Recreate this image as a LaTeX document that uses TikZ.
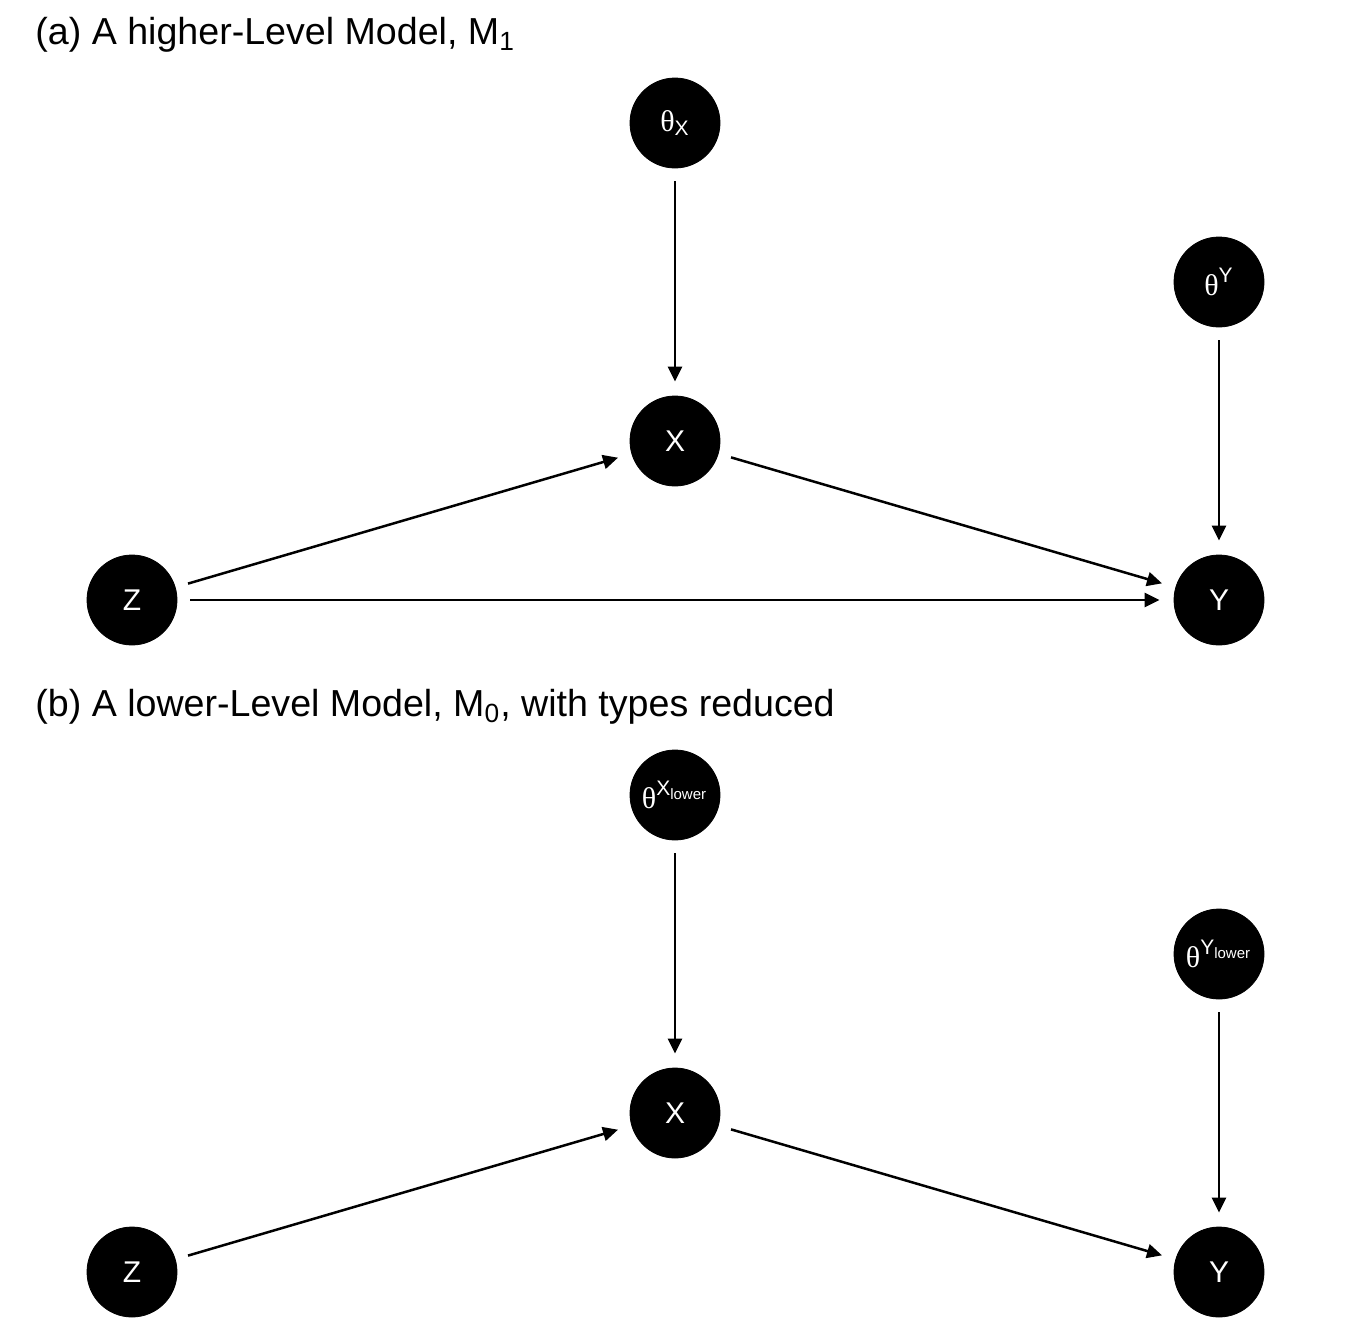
\documentclass[tikz,border=0pt]{standalone}
\usepackage{amsmath}
\usepackage{fontspec}
\setmainfont{Liberation Sans}
\newfontfamily\thetafont{Liberation Serif}
\usepackage{tikz}
\usetikzlibrary{arrows,arrows.meta,positioning}
\pgfdeclarelayer{edgelayer}
\pgfdeclarelayer{nodelayer}
\pgfsetlayers{edgelayer,nodelayer,main}
\newcommand{\thet}{\text{\thetafont θ}}
\tikzstyle{var}=[circle,fill=black,draw=black,text=white,minimum size=45pt,inner sep=0pt,font=\fontsize{15}{17}\selectfont]
\tikzstyle{inarrow}=[-{Triangle[length=7.5pt,width=7pt]}, line width=1.25pt, shorten >=7pt, shorten <=6.5pt]
\tikzstyle{panel}=[anchor=base west,inner sep=0pt,font=\fontsize{18.8}{22}\selectfont]
\tikzstyle{none}=[inner sep=0pt]

\begin{document}
\begin{tikzpicture}[x=0.5pt,y=-0.5pt]
	\useasboundingbox (0,0) rectangle (1344,1344);
	\begin{pgfonlayer}{nodelayer}
		\node [style=panel] (titleA) at (35,44) {(a) A higher-Level Model, M\textsubscript{1}};
		\node [style=var] (thX) at (675,123) {$\thet_{\text{X}}$};
		\node [style=var] (X) at (675,441) {X};
		\node [style=var] (thY) at (1219,282) {$\thet^{\text{Y}}$};
		\node [style=var] (Y) at (1219,600) {Y};
		\node [style=var] (Z) at (132,600) {Z};
		\node [style=panel] (titleB) at (35,716) {(b) A lower-Level Model, M\textsubscript{0}, with types reduced};
		\node [style=var] (thXl) at (675,795) {$\thet^{\text{X}_{\text{lower}}}$};
		\node [style=var] (Xl) at (675,1113) {X};
		\node [style=var] (thYl) at (1219,954) {$\thet^{\text{Y}_{\text{lower}}}$};
		\node [style=var] (Yl) at (1219,1272) {Y};
		\node [style=var] (Zl) at (132,1272) {Z};
	\end{pgfonlayer}
	\begin{pgfonlayer}{edgelayer}
		\draw [style=inarrow] (thX) to (X);
		\draw [style=inarrow] (thY) to (Y);
		\draw [style=inarrow] (Z) to (X);
		\draw [style=inarrow] (X) to (Y);
		\draw [style=inarrow] (Z) to (Y);
		\draw [style=inarrow] (thXl) to (Xl);
		\draw [style=inarrow] (thYl) to (Yl);
		\draw [style=inarrow] (Zl) to (Xl);
		\draw [style=inarrow] (Xl) to (Yl);
	\end{pgfonlayer}
\end{tikzpicture}
\end{document}
